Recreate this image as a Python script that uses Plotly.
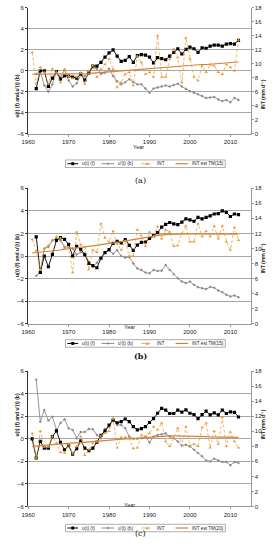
import plotly.graph_objects as go

# ---------------- data ----------------
YEARS_INT = list(range(1961, 2013))          # INT and trend years
YEARS_U = list(range(1962, 2013))            # u(t) years (panels a, b)
YEARS_U_C = list(range(1961, 2013))          # u(t) (f) years panel c
X_TICKS = [1960, 1970, 1980, 1990, 2000, 2010]

# Panel (a)
UF_A = [-1.7, 0.0, 0.0, -1.5, -0.7, -0.1, -0.8, -0.5, -0.5, -0.6, -0.7, -0.3, -0.9, -0.2,
        0.45, 0.45, 0.8, 1.3, 1.7, 2.0, 1.4, 0.9, 1.0, 1.35, 0.8, 1.45, 1.55, 1.5, 1.3, 0.75,
        1.25, 1.15, 1.05, 1.4, 1.75, 2.1, 1.6, 2.05, 2.25, 2.1, 1.75, 2.2, 2.15, 2.35, 2.45,
        2.45, 2.35, 2.55, 2.6, 2.55, 2.9]
UB_A = [-0.3, -0.1, -1.4, -2.0, -1.3, -0.1, -0.6, 0.1, -0.9, -1.5, -1.2, -0.4, -0.5, -0.1,
        0.3, 0.2, -0.3, -0.2, 0.2, -0.5, -1.0, -1.3, -1.1, -0.8, -1.1, -1.3, -1.3, -1.7, -2.1,
        -1.7, -1.6, -1.5, -1.4, -1.5, -1.35, -1.25, -1.5, -1.75, -1.95, -2.1, -2.25, -2.4,
        -2.6, -2.55, -2.5, -2.75, -2.9, -2.8, -3.0, -2.6, -2.8]
INT_A = [11.6, 7.1, 9.5, 8.8, 7.1, 9.3, 8.8, 7.3, 9.2, 8.2, 7.9, 8.1, 8.7, 7.1, 9.0, 9.7,
         8.1, 9.2, 9.9, 10.7, 9.2, 6.6, 7.3, 8.5, 8.8, 6.9, 11.1, 10.2, 8.5, 8.8, 8.1, 14.0,
         8.1, 8.1, 10.7, 12.1, 10.9, 7.3, 13.7, 10.7, 8.1, 7.6, 9.7, 8.8, 9.9, 9.7, 8.8, 8.5,
         9.9, 9.5, 9.0, 13.4]
TREND_A = [8.5, 8.5, 8.5, 8.5, 8.5, 8.5, 8.5, 8.5, 8.5, 8.5, 8.5, 8.5, 8.55, 8.55, 8.6,
           8.65, 8.7, 8.75, 8.8, 8.85, 8.9, 8.95, 9.0, 9.0, 9.05, 9.1, 9.15, 9.2, 9.25, 9.3,
           9.35, 9.4, 9.45, 9.5, 9.55, 9.6, 9.6, 9.65, 9.7, 9.75, 9.8, 9.85, 9.9, 9.9, 9.95,
           10.0, 10.05, 10.1, 10.1, 10.15, 10.2, 10.25]

# Panel (b)
UF_B = [1.7, -1.45, 0.0, -0.95, 0.15, 1.38, 1.62, 1.47, 1.03, 0.0, 0.86, 0.6, 0.13, -0.66,
        -0.86, -1.04, -0.2, 0.3, 0.57, 1.12, 1.3, 1.17, 1.46, 0.95, 0.5, 0.97, 1.2, 1.24,
        1.55, 1.8, 2.07, 2.55, 2.8, 2.97, 2.85, 2.78, 3.0, 3.28, 3.2, 3.08, 3.43, 3.28, 3.43,
        3.55, 3.72, 3.76, 4.0, 3.87, 3.5, 3.72, 3.66]
UB_B = [-1.75, -1.45, 0.66, 0.8, 1.38, 1.55, 1.38, 0.8, 0.8, 0.66, 0.13, 0.35, 0.2, -0.5,
        -0.95, -0.6, -0.1, 0.3, 0.5, 0.2, 0.5, 0.0, -0.15, -0.1, -0.66, -1.1, -1.24, -1.47,
        -1.53, -1.24, -1.33, -1.3, -0.8, -1.24, -1.6, -1.97, -2.26, -2.4, -2.26, -2.55,
        -2.76, -2.85, -2.93, -2.75, -2.82, -3.05, -3.2, -3.43, -3.58, -3.49, -3.66]
INT_B = [11.2, 9.7, 7.1, 10.0, 10.4, 11.1, 11.6, 11.4, 10.0, 10.2, 6.8, 12.2, 10.5, 10.2,
         7.2, 9.8, 9.5, 13.3, 11.4, 10.9, 12.3, 10.6, 9.8, 11.0, 9.0, 9.0, 12.5, 11.7, 10.3,
         12.2, 11.6, 12.9, 11.3, 12.5, 12.2, 10.3, 10.4, 12.0, 13.0, 10.9, 10.9, 13.3, 11.6,
         12.3, 11.6, 13.0, 11.3, 13.0, 10.9, 9.8, 12.8, 11.1]
TREND_B = [9.4, 9.45, 9.5, 9.55, 9.6, 9.7, 9.75, 9.8, 9.9, 9.95, 10.0, 10.1, 10.15, 10.2,
           10.3, 10.35, 10.4, 10.5, 10.55, 10.65, 10.7, 10.8, 10.9, 11.0, 11.1, 11.2, 11.3,
           11.4, 11.5, 11.6, 11.7, 11.75, 11.8, 11.85, 11.9, 11.9, 11.9, 11.95, 11.95, 11.95,
           11.95, 11.95, 11.9, 11.9, 11.9, 11.9, 11.9, 11.9, 11.9, 11.9, 11.9, 11.9]

# Panel (c)
UF_C = [0.0, -1.7, -0.23, -0.82, -0.82, 0.2, 0.7, -0.32, -0.97, -0.6, -1.35, -0.88, -0.18,
        -0.82, -1.05, -0.82, -0.3, 0.3, 0.7, 1.23, 1.67, 1.43, 1.52, 1.76, 1.52, 1.08, 0.8,
        0.9, 1.08, 1.45, 1.8, 2.27, 2.7, 2.55, 2.25, 2.25, 2.55, 2.37, 2.57, 2.27, 2.15,
        1.8, 2.15, 2.46, 2.12, 2.3, 2.12, 2.55, 2.25, 2.4, 2.35, 1.94]
UB_C = [5.24, 1.52, 2.55, 1.62, 1.96, 0.8, 1.4, 1.75, 0.94, 0.79, 0.06, 0.6, 0.6, 0.88,
        0.85, 0.35, 0.06, 0.88, 1.08, 1.8, 1.23, 1.23, 0.94, 0.2, 0.0, 0.0, 0.05, 0.2, -0.32,
        0.2, 0.35, 0.4, 0.5, 0.2, 0.06, -0.23, -0.6, -0.53, -0.67, -0.97, -1.26, -1.55,
        -1.93, -2.0, -1.76, -1.93, -2.05, -2.05, -2.34, -2.05, -2.14]
INT_C = [9.7, 6.45, 10.0, 7.9, 7.9, 9.3, 8.4, 7.2, 7.1, 8.2, 7.0, 8.0, 9.3, 6.8, 7.55, 8.4,
         8.6, 9.4, 9.75, 10.0, 11.7, 7.8, 9.2, 9.2, 9.1, 7.7, 7.8, 9.5, 9.3, 9.75, 10.6,
         10.2, 11.1, 8.65, 8.0, 9.1, 10.4, 8.1, 10.6, 8.1, 8.3, 8.0, 10.5, 11.1, 7.8, 10.0,
         8.3, 11.9, 8.0, 9.9, 8.65, 7.8]
TREND_C = [8.0, 8.05, 8.1, 8.15, 8.2, 8.2, 8.25, 8.3, 8.35, 8.4, 8.45, 8.5, 8.5, 8.55, 8.6,
           8.65, 8.7, 8.7, 8.75, 8.8, 8.85, 8.9, 8.95, 9.0, 9.0, 9.05, 9.1, 9.15, 9.2, 9.25,
           9.3, 9.35, 9.4, 9.4, 9.4, 9.4, 9.4, 9.35, 9.35, 9.35, 9.3, 9.3, 9.3, 9.3, 9.25,
           9.25, 9.25, 9.25, 9.2, 9.2, 9.2, 9.2]

# ---------------- styling ----------------
W, H = 274, 550
BLACK = "#000000"
GREY = "#8c8c8c"
INT_COL = "#e8992e"
TREND_COL = "#d4813a"
GRID = "#a8a8a8"
FONT = "Liberation Sans, Arial, sans-serif"


def px_x(p):
    return p / W


def px_y(p):
    return 1 - p / H


X_DOM = [px_x(21.7), px_x(250)]

panels = [
    dict(label="(a)", bold=False, top=5, bottom=132, year_x=135, year_y=140.5,
         leg_y=162.5, lab_y=173, ltitle_y=70, rtitle_y=75, trend_name="INT est TM(15)",
         yu=YEARS_U, uf=UF_A, ub=UB_A, yub=YEARS_U, intv=INT_A, trend=TREND_A),
    dict(label="(b)", bold=True, top=187.3, bottom=324.3, year_x=126, year_y=327.5,
         leg_y=344.2, lab_y=357, ltitle_y=255, rtitle_y=258, trend_name="INT est TM(15)",
         yu=YEARS_U, uf=UF_B, ub=UB_B, yub=YEARS_U, intv=INT_B, trend=TREND_B),
    dict(label="(c)", bold=False, top=372.3, bottom=509, year_x=126, year_y=512.5,
         leg_y=530.8, lab_y=543, ltitle_y=440, rtitle_y=443, trend_name="INT est TM(20)",
         yu=YEARS_U_C, uf=UF_C, ub=UB_C, yub=YEARS_U, intv=INT_C, trend=TREND_C),
]

fig = go.Figure()
layout = dict(width=W, height=H, margin=dict(l=0, r=0, t=0, b=0),
              paper_bgcolor="white", plot_bgcolor="white", showlegend=False,
              font=dict(family=FONT, size=6, color="#222"))
annotations = []
shapes = []

for i, p in enumerate(panels):
    xn = "x" if i == 0 else f"x{i + 1}"
    yl = "y" if i == 0 else f"y{2 * i + 1}"
    yr = f"y{2 * i + 2}"
    xkey = "xaxis" if i == 0 else f"xaxis{i + 1}"
    ylkey = "yaxis" if i == 0 else f"yaxis{2 * i + 1}"
    yrkey = f"yaxis{2 * i + 2}"
    ydom = [px_y(p["bottom"]), px_y(p["top"])]

    layout[xkey] = dict(domain=X_DOM, anchor=yl, range=[1960, 2015], tickvals=X_TICKS,
                        showgrid=False, zeroline=False, showline=True, linecolor="#9a9a9a",
                        linewidth=1, ticks="outside", ticklen=2, tickcolor="#9a9a9a",
                        tickfont=dict(size=6, color="#222"))
    layout[ylkey] = dict(domain=ydom, anchor=xn, range=[-6, 6], dtick=2, tick0=-6,
                         showgrid=True, gridcolor=GRID, gridwidth=1, zeroline=False,
                         showline=True, linecolor="#333", linewidth=1, ticks="outside",
                         ticklen=2, tickcolor="#333", tickfont=dict(size=6, color="#222"))
    layout[yrkey] = dict(overlaying=yl, side="right", anchor=xn, range=[0, 18], dtick=2,
                         tick0=0, showgrid=False, zeroline=False, showline=True,
                         linecolor="#9a9a9a", linewidth=1, ticks="outside", ticklen=2,
                         tickcolor="#9a9a9a", tickfont=dict(size=6, color="#222"))

    # series
    fig.add_trace(go.Scatter(x=YEARS_INT, y=p["trend"], xaxis=xn, yaxis=yr, mode="lines",
                             line=dict(color=TREND_COL, width=1.2), name=p["trend_name"]))
    fig.add_trace(go.Scatter(x=YEARS_INT, y=p["intv"], xaxis=xn, yaxis=yr, mode="lines+markers",
                             line=dict(color=INT_COL, width=0.7, dash="3px,2px"),
                             marker=dict(symbol="triangle-up", size=3, color=INT_COL),
                             name="INT"))
    fig.add_trace(go.Scatter(x=p["yub"], y=p["ub"], xaxis=xn, yaxis=yl, mode="lines+markers",
                             line=dict(color=GREY, width=0.9),
                             marker=dict(symbol="diamond", size=2.3, color=GREY),
                             name="u'(t) (b)"))
    fig.add_trace(go.Scatter(x=p["yu"], y=p["uf"], xaxis=xn, yaxis=yl, mode="lines+markers",
                             line=dict(color=BLACK, width=0.9),
                             marker=dict(symbol="square", size=3.2, color=BLACK),
                             name="u(t) (f)"))

    # axis titles
    annotations.append(dict(text="Year", x=px_x(p["year_x"]), y=px_y(p["year_y"]),
                            xref="paper", yref="paper", showarrow=False,
                            font=dict(size=5.5, color="#222")))
    annotations.append(dict(text="u(t) (f) and u'(t) (b)", x=px_x(5), y=px_y(p["ltitle_y"]),
                            xref="paper", yref="paper", showarrow=False, textangle=-90,
                            font=dict(size=5, color="#222", weight="bold")))
    annotations.append(dict(text="INT (mm d⁻¹)", x=px_x(268), y=px_y(p["rtitle_y"]),
                            xref="paper", yref="paper", showarrow=False, textangle=-90,
                            font=dict(size=5, color="#222", weight="bold")))
    # panel label
    annotations.append(dict(text=p["label"], x=px_x(137), y=px_y(p["lab_y"]), xref="paper",
                            yref="paper", showarrow=False,
                            font=dict(family="DejaVu Serif, Liberation Serif, serif", size=8,
                                      color="#111",
                                      weight="bold" if p["bold"] else "normal")))

    # legend box (drawn manually)
    ly = p["leg_y"]
    shapes.append(dict(type="rect", xref="paper", yref="paper", x0=px_x(60), x1=px_x(224),
                       y0=px_y(ly + 3.8), y1=px_y(ly - 3.8), line=dict(color="#9a9a9a", width=0.8),
                       fillcolor="white"))
    entries = [
        (62, 73, BLACK, "solid", 1, "square", "u(t) (f)", 75),
        (97, 110, GREY, "solid", 1, "diamond", "u'(t) (b)", 112),
        (138, 150, INT_COL, "dash", 0.8, "triangle", "INT", 152),
        (173, 186, TREND_COL, "solid", 1.2, None, p["trend_name"], 188),
    ]
    for (xa, xb, col, dash, lw, sym, txt, tx) in entries:
        shapes.append(dict(type="line", xref="paper", yref="paper", x0=px_x(xa), x1=px_x(xb),
                           y0=px_y(ly), y1=px_y(ly), line=dict(color=col, width=lw, dash=dash)))
        cx = (xa + xb) / 2
        if sym == "square":
            shapes.append(dict(type="rect", xref="paper", yref="paper", x0=px_x(cx - 1.5),
                               x1=px_x(cx + 1.5), y0=px_y(ly + 1.5), y1=px_y(ly - 1.5),
                               fillcolor=col, line=dict(width=0)))
        elif sym == "diamond":
            path = (f"M {px_x(cx)},{px_y(ly - 1.4)} L {px_x(cx + 1.4)},{px_y(ly)} "
                    f"L {px_x(cx)},{px_y(ly + 1.4)} L {px_x(cx - 1.4)},{px_y(ly)} Z")
            shapes.append(dict(type="path", xref="paper", yref="paper", path=path,
                               fillcolor=col, line=dict(width=0)))
        elif sym == "triangle":
            path = (f"M {px_x(cx)},{px_y(ly - 1.6)} L {px_x(cx + 1.6)},{px_y(ly + 1.3)} "
                    f"L {px_x(cx - 1.6)},{px_y(ly + 1.3)} Z")
            shapes.append(dict(type="path", xref="paper", yref="paper", path=path,
                               fillcolor=col, line=dict(width=0)))
        annotations.append(dict(text=txt, x=px_x(tx), y=px_y(ly), xref="paper", yref="paper",
                                xanchor="left", yanchor="middle", showarrow=False,
                                font=dict(size=4.7, color="#222")))

layout["annotations"] = annotations
layout["shapes"] = shapes
fig.update_layout(**layout)
fig.write_html("out.html", config={"displayModeBar": False},
               post_script="document.body.style.margin='0';document.body.style.padding='0';")
